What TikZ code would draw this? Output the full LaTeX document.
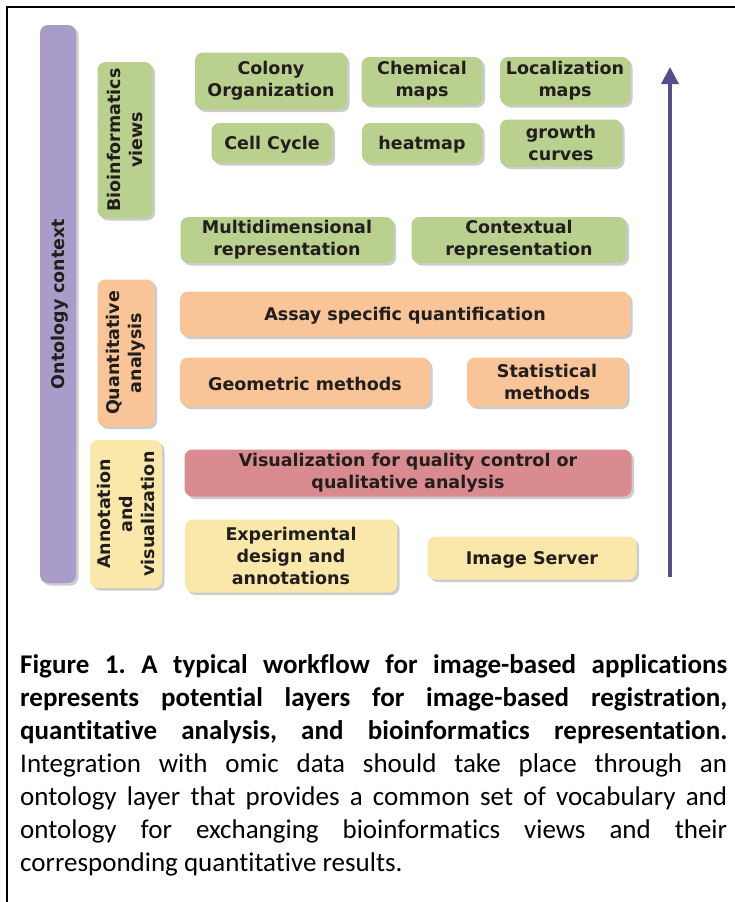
\documentclass[tikz,border=0pt]{standalone}
\usepackage{fontspec}
\setmainfont{DejaVu Sans}
\newfontfamily\capfont[Ligatures=NoCommon]{Carlito}
\usepackage{tikz}
\usetikzlibrary{
	positioning,
	arrows.meta,
	shadows
}

\definecolor{ontopurple}{RGB}{170,156,200}
\definecolor{biogreen}{RGB}{185,208,142}
\definecolor{quantorange}{RGB}{249,197,152}
\definecolor{qcred}{RGB}{217,139,143}
\definecolor{annotyellow}{RGB}{250,232,170}
\definecolor{arrowpurple}{RGB}{88,76,138}
\definecolor{boxtext}{RGB}{34,30,30}

\tikzset{
	box/.style={rounded corners=8pt,inner sep=0pt,align=center,text=boxtext,
		font=\bfseries\fontsize{17.5}{22}\selectfont,
		execute at begin node={\rule{0pt}{17pt}},
		drop shadow={shadow xshift=2.5pt,shadow yshift=-2.5pt,opacity=.4}},
	bio/.style={box,fill=biogreen},
	quant/.style={box,fill=quantorange},
	qc/.style={box,fill=qcred},
	annot/.style={box,fill=annotyellow},
	layer/.style={rotate=90},
}

\begin{document}
\begin{tikzpicture}[x=1pt,y=-1pt]
		\useasboundingbox (0,0) rectangle (735,902);
		\draw[line width=2pt] (735,7) -- (7,7) -- (7,902);

		\draw
			node[box,fill=ontopurple,layer,minimum width=558,minimum height=36] (onto)  at (58,304)  {Ontology context}
			node[bio,layer,minimum width=156,minimum height=55]    (bioside)   at (125,140) {Bioinformatics\\views}
			node[quant,layer,minimum width=147,minimum height=57]  (quantside) at (126,353) {Quantitative\\analysis}
			node[annot,layer,minimum width=148,minimum height=72]  (annotside) at (126,514) {Annotation\\and\\visualization}

			node[bio,minimum width=152,minimum height=57]   (colony)   at (271,81)  {Colony\\Organization}
			node[bio,minimum width=121,minimum height=48]   (chem)     at (422,81)  {Chemical\\maps}
			node[bio,minimum width=130,minimum height=48]   (loc)      at (565,81)  {Localization\\maps}
			node[bio,minimum width=121,minimum height=40]   (cycle)    at (272,143) {Cell Cycle}
			node[bio,minimum width=120,minimum height=40]   (heat)     at (422,143) {heatmap}
			node[bio,minimum width=122,minimum height=47]   (growth)   at (561,143) {growth\\curves}
			node[bio,minimum width=213,minimum height=46]   (multi)    at (287,240) {Multidimensional\\representation}
			node[bio,minimum width=215,minimum height=46]   (context)  at (519,240) {Contextual\\representation}

			node[quant,minimum width=450,minimum height=45] (assay)    at (405,314) {Assay specific quantification}
			node[quant,minimum width=250,minimum height=49] (geom)     at (305,382) {Geometric methods}
			node[quant,minimum width=160,minimum height=49] (stat)     at (547,382) {Statistical\\methods}

			node[qc,minimum width=447,minimum height=47]    (qualvis)  at (408,473) {Visualization for quality control or\\qualitative analysis}

			node[annot,minimum width=212,minimum height=73] (design)   at (291,556) {Experimental\\design and\\annotations}
			node[annot,minimum width=209,minimum height=43] (server)   at (532,558) {Image Server}
		;

		\coordinate (risebot) at (670,577);
		\coordinate (risetop) at (670,67);
		\draw[arrowpurple,line width=3.5pt,-{Triangle[width=17pt,length=17pt]}] (risebot) -- (risetop);

		\node[anchor=north west,inner sep=0pt,text width=707pt,align=justify,
			font=\capfont\fontsize{27}{33}\selectfont] (caption) at (20,654)
			{\frenchspacing\hbadness=10000\textbf{Figure 1. A typical workflow for image-based applications\linebreak
			represents potential layers for image-based registration,\linebreak
			quantitative analysis, and bioinformatics representation.}\linebreak
			Integration with omic data should take place through an\linebreak
			ontology layer that provides a common set of vocabulary and\linebreak
			ontology for exchanging bioinformatics views and their\linebreak
			corresponding quantitative results.};
	\end{tikzpicture}
\end{document}
